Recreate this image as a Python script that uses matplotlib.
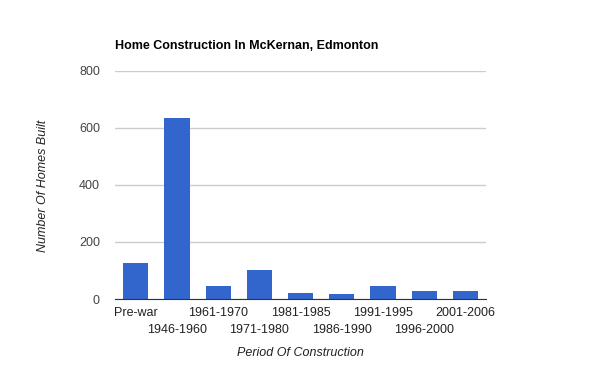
import matplotlib
matplotlib.use("Agg")
import matplotlib.pyplot as plt

categories = ["Pre-war", "1946-1960", "1961-1970", "1971-1980", "1981-1985",
              "1986-1990", "1991-1995", "1996-2000", "2001-2006"]
homes_built = [127, 635, 46, 102, 21, 18, 46, 28, 28]
y_ticks = [0, 200, 400, 600, 800]

plt.rcParams["font.family"] = ["Liberation Sans", "DejaVu Sans"]

fig = plt.figure(figsize=(6, 3.71), dpi=100)
ax = fig.add_axes([0.192, 0.194, 0.618, 0.615])

x = list(range(len(categories)))
ax.bar(x, homes_built, width=0.61, color="#3366cc", zorder=3)

ax.set_xlim(-0.5, len(categories) - 0.5)
ax.set_ylim(0, 800)
ax.set_yticks(y_ticks)
ax.set_yticklabels([str(v) for v in y_ticks], color="#444444", fontsize=9)
ax.yaxis.grid(True, color="#cccccc", linewidth=1, zorder=0)
ax.tick_params(axis="y", length=0, pad=11)

# category labels alternate on two rows: even on major ticks, odd on minor
ax.set_xticks(x[0::2])
ax.set_xticklabels(categories[0::2], fontsize=9, color="#222222")
ax.set_xticks(x[1::2], minor=True)
ax.set_xticklabels(categories[1::2], minor=True, fontsize=9, color="#222222")
ax.tick_params(axis="x", which="major", length=0, pad=6)
ax.tick_params(axis="x", which="minor", length=0, pad=18)

for side in ["top", "right", "left"]:
    ax.spines[side].set_visible(False)
ax.spines["bottom"].set_color("#333333")
ax.spines["bottom"].set_zorder(4)

fig.text(0.192, 0.876, "Home Construction In McKernan, Edmonton",
         fontsize=9, fontweight="bold", ha="left", va="center")
fig.text(0.5, 0.048, "Period Of Construction", fontsize=9,
         style="italic", color="#222222", ha="center", va="center")
fig.text(0.072, 0.5, "Number Of Homes Built", fontsize=9, style="italic",
         color="#222222", rotation=90, ha="center", va="center")

fig.savefig("out.png", dpi=100)
